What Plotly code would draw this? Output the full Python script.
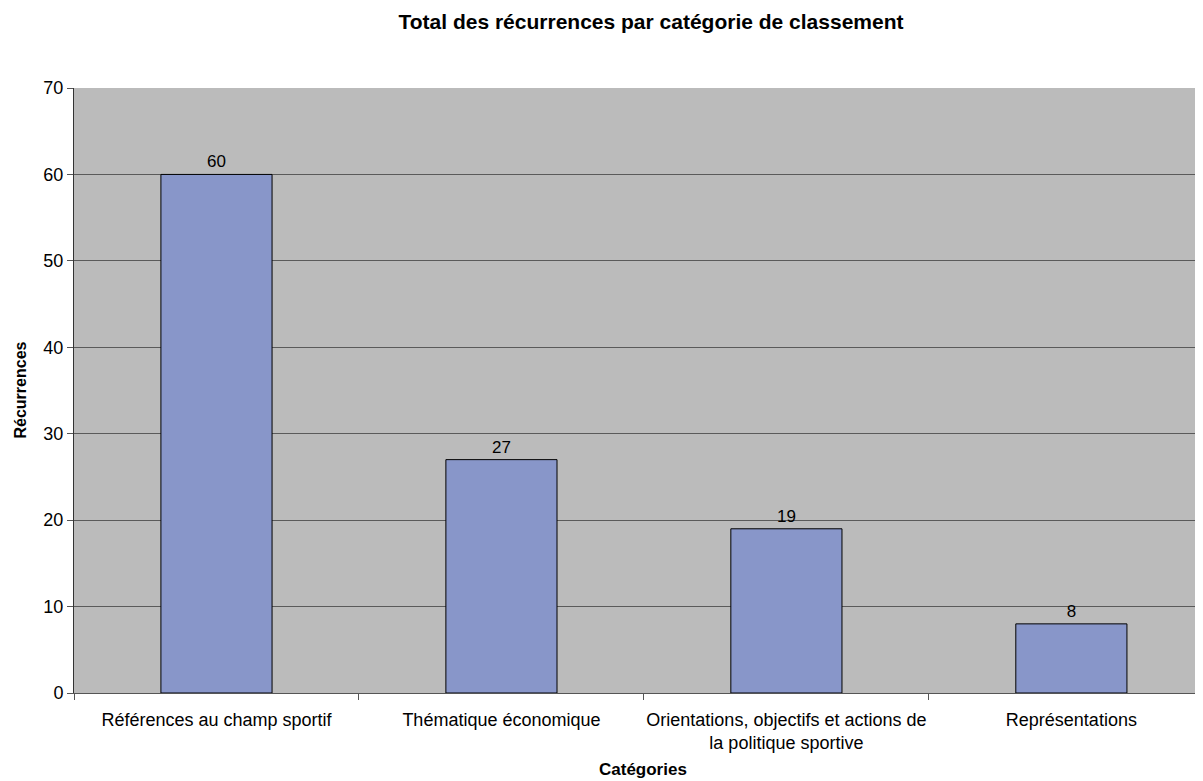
"""Total des récurrences par catégorie de classement"""

import plotly.graph_objects as go

categories = [
    "Références au champ sportif",
    "Thématique économique",
    "Orientations, objectifs et actions de<br>la politique sportive",
    "Représentations",
]
recurrences = [60, 27, 19, 8]

FONT = "Liberation Sans, Arial, sans-serif"

fig = go.Figure(go.Bar(
    x=categories,
    y=recurrences,
    width=0.39,
    marker=dict(color="#8896C9", line=dict(color="#000000", width=1)),
    text=recurrences,
    textposition="outside",
    textfont=dict(size=17, color="black", family=FONT),
    cliponaxis=False,
    hovertemplate="<b>%{x}</b><br>Récurrences: %{y}<extra></extra>",
))

# la page a une marge de 8 px : la figure commence en (8, 8)
fig.update_layout(
    width=1203,
    height=781,
    margin=dict(l=66, r=0, t=80, b=96, autoexpand=False),
    paper_bgcolor="white",
    plot_bgcolor="#BBBBBB",
    font=dict(family=FONT, size=18, color="black"),
    showlegend=False,
    title=dict(
        text="<b>Total des récurrences par catégorie de classement</b>",
        x=643 / 1203, xanchor="center",
        y=1 - 14 / 781, yanchor="middle",
        font=dict(size=21, family=FONT, color="black"),
    ),
    xaxis=dict(
        range=[-0.5, 3.49],
        showline=True, linecolor="#555555", linewidth=1,
        ticks="outside", tickson="boundaries", ticklen=6, tickcolor="#555555",
        showgrid=False, tickangle=0, automargin=False,
        ticklabelstandoff=10,
        tickfont=dict(size=18, family=FONT),
    ),
    yaxis=dict(
        range=[0, 70],
        dtick=10,
        showline=True, linecolor="#333333", linewidth=1,
        ticks="outside", ticklen=6, tickcolor="#555555",
        showgrid=True, gridcolor="#5a5a5a", gridwidth=1,
        zeroline=False, automargin=False,
        tickfont=dict(size=18, family=FONT),
    ),
    annotations=[
        dict(text="<b>Récurrences</b>", textangle=-90,
             xref="paper", yref="paper", x=0, y=0.5,
             xanchor="center", yanchor="middle", xshift=-54, showarrow=False,
             font=dict(size=16, family=FONT)),
        dict(text="<b>Catégories</b>",
             xref="paper", yref="paper", x=0.5, y=0,
             xanchor="center", yanchor="bottom", yshift=-88, showarrow=False,
             font=dict(size=17, family=FONT)),
    ],
)

fig.write_html("out.html")
